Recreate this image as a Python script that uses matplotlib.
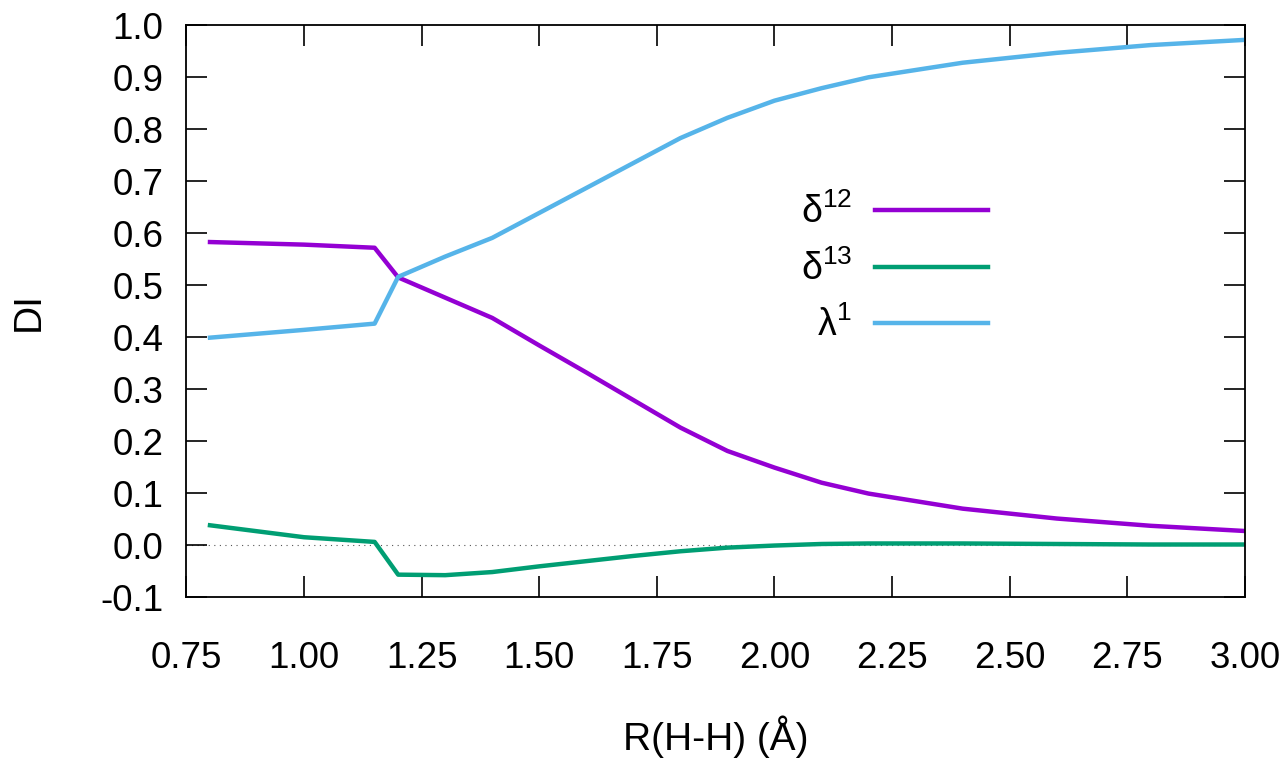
import numpy as np
import matplotlib
matplotlib.use("Agg")
import matplotlib.pyplot as plt

plt.rcParams['font.family'] = ['Liberation Sans', 'DejaVu Sans']
plt.rcParams['mathtext.default'] = 'regular'
plt.rcParams['axes.unicode_minus'] = False

# bond distance R(H-H) in Angstrom
r = [0.80, 1.00, 1.15, 1.20, 1.30, 1.40, 1.50, 1.60, 1.70, 1.80,
     1.90, 2.00, 2.10, 2.20, 2.40, 2.60, 2.80, 3.00]

delta12 = [0.583, 0.578, 0.572, 0.515, 0.476, 0.437, 0.384, 0.332, 0.279, 0.226,
           0.181, 0.149, 0.120, 0.099, 0.070, 0.051, 0.037, 0.027]
delta13 = [0.038, 0.015, 0.006, -0.057, -0.058, -0.052, -0.041, -0.031, -0.021, -0.012,
           -0.005, -0.001, 0.002, 0.003, 0.003, 0.002, 0.001, 0.001]
lambda1 = [0.399, 0.414, 0.426, 0.516, 0.555, 0.591, 0.639, 0.687, 0.735, 0.783,
           0.822, 0.855, 0.879, 0.900, 0.928, 0.947, 0.962, 0.972]

fig = plt.figure(figsize=(12.86, 7.58), dpi=100)
ax = fig.add_axes([0.145, 0.2124, 0.823, 0.7542])

ax.axhline(0.0, color='#555555', lw=0.8, ls=(0, (1, 4)), zorder=1)

ax.plot(r, delta12, color='#9400D3', lw=3.2, label='δ$^{12}$')
ax.plot(r, delta13, color='#009E73', lw=3.2, label='δ$^{13}$')
ax.plot(r, lambda1, color='#56B4E9', lw=3.2, label='λ$^{1}$')

xt = np.arange(0.75, 3.01, 0.25)
yt = np.arange(-0.1, 1.01, 0.1)
ax.set_xlim(0.75, 3.0)
ax.set_ylim(-0.1, 1.0)
ax.set_xticks(xt)
ax.set_xticklabels([f'{v:.2f}' for v in xt])
ax.set_yticks(yt)
ax.set_yticklabels(['0.0' if abs(v) < 1e-9 else f'{v:.1f}' for v in yt])

ax.tick_params(direction='in', length=15, width=1.2, top=True, right=True,
               labelsize=26.5)
ax.tick_params(axis='y', pad=16.5)
ax.tick_params(axis='x', pad=32)
for s in ax.spines.values():
    s.set_linewidth(1.3)

ax.set_xlabel('R(H-H) (Å)', fontsize=28, labelpad=28)
ax.set_ylabel('DI', fontsize=28, labelpad=39)

ax.legend(loc='center right', bbox_to_anchor=(0.757, 0.574), frameon=False,
          markerfirst=False, fontsize=27, handlelength=3.0, handletextpad=0.62,
          labelspacing=0.5, borderpad=0, borderaxespad=0)

fig.savefig('out.png', dpi=100)
